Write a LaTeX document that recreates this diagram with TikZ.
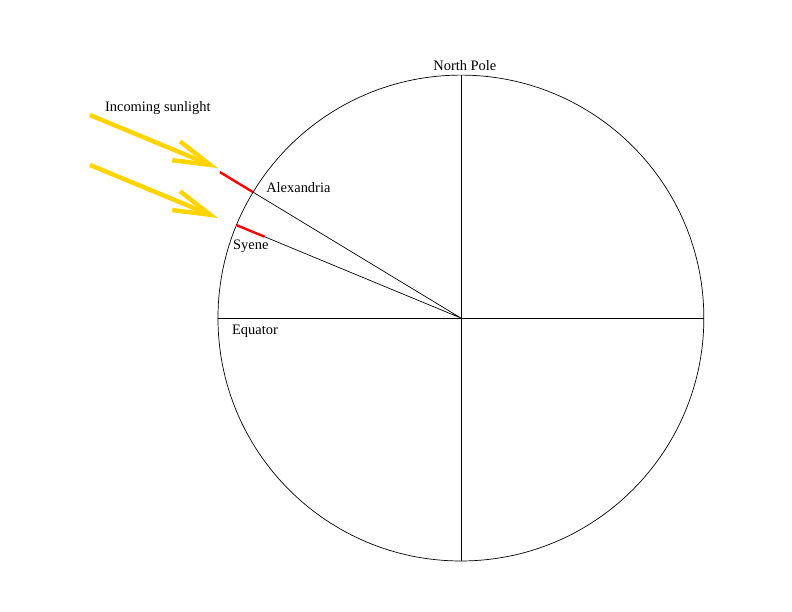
\documentclass[tikz,border=0pt]{standalone}
\usepackage{fontspec}
\setmainfont{Liberation Serif}
\usetikzlibrary{arrows.meta}
\definecolor{sungold}{RGB}{255,212,0}
\tikzset{
	earth/.style={line width=0.7pt},
	marker/.style={red,line width=2.4pt},
	sunray/.style={sungold,line width=4.5pt,-{Straight Barb[length=1.3cm,width=0.72cm]}},
	place/.style={font=\fontsize{14.5}{17}\selectfont,inner sep=1pt}
}
\begin{document}
\begin{tikzpicture}
\useasboundingbox (-16.26,-10.37) rectangle (11.68,11.22);
% the earth
\coordinate (C) at (0,0);
\draw[earth] (C) circle (8.57);
\coordinate (N) at (90:8.57);
\coordinate (S) at (-90:8.57);
\coordinate (W) at (180:8.57);
\coordinate (E) at (0:8.57);
\draw[earth] (N) -- (S) (W) -- (E);
% the two towns
\coordinate (Alex) at (148.8:8.57);
\coordinate (Sy) at (157.5:8.57);
\draw[earth] (C) -- (Alex) (C) -- (Sy);
\draw[marker] (Alex) -- (148.8:9.94);
\draw[marker] (Sy) -- (157.5:7.5);
% sun rays
\coordinate (T1) at (-8.57,5.29);
\coordinate (T2) at (-8.57,3.53);
\path (T1)++(157.5:4.89) coordinate (R1);
\path (T2)++(157.5:4.89) coordinate (R2);
\draw[sunray] (R1) -- (T1);
\draw[sunray] (R2) -- (T2);
% labels
\node[place,above,xshift=4pt,yshift=3pt] (np) at (N) {North Pole};
\node[place,anchor=west,xshift=12pt,yshift=4.5pt] (alexlabel) at (Alex) {Alexandria};
\node[place,anchor=west,xshift=-4.5pt,yshift=-21pt] (sylabel) at (Sy) {Syene};
\node[place,anchor=west,xshift=13pt,yshift=-13pt] (eqlabel) at (W) {Equator};
\node[place,anchor=west,xshift=14pt,yshift=7pt] (sunlabel) at (R1) {Incoming sunlight};
\end{tikzpicture}
\end{document}
